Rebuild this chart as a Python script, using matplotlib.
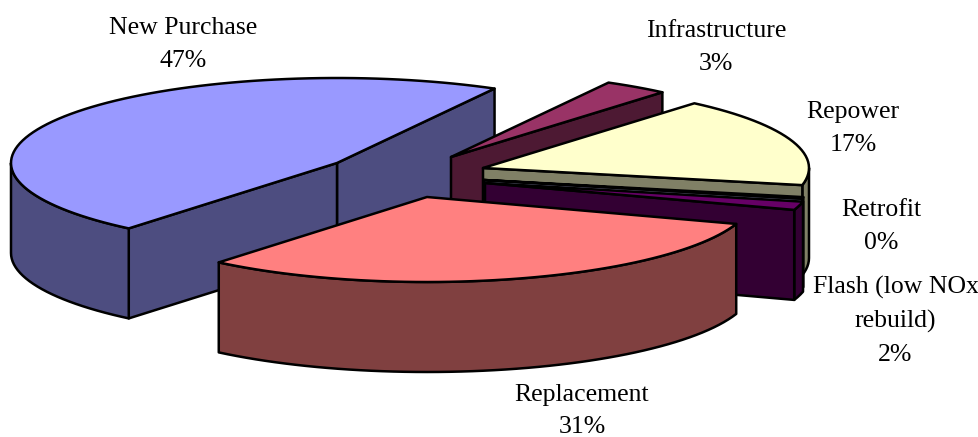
import numpy as np
import matplotlib
matplotlib.use("Agg")
import matplotlib.pyplot as plt
from matplotlib.patches import Polygon

# --- data ---
categories = ["New Purchase", "Infrastructure", "Repower", "Retrofit",
              "Flash (low NOx\nrebuild)", "Replacement"]
values = [47.0, 3.2, 17, 0.3, 1.6, 30.9]
percent_labels = ["47%", "3%", "17%", "0%", "2%", "31%"]

# --- style ---
top_colors = ["#9999FF", "#993366", "#FFFFCC", "#CCFFFF", "#660066", "#FF8080"]
side_colors = ["#4D4D80", "#4D1933", "#808066", "#666680", "#330033", "#804040"]

# --- layout (pixels) ---
W, H = 979, 437
RX, RY, DEPTH = 326, 85, 90
START_DEG = 230.3   # the pie starts here and runs clockwise
apex_x = [337, 451, 483, 484, 485, 427]
apex_y = [163, 157, 168, 180, 183, 197]
label_x = [183, 716, 853, 881, 895.5, 582]
label_y = [44.5, 47.5, 128.5, 226.5, 320.5, 411]
LW = 1.8

plt.rcParams["font.family"] = ["Liberation Serif", "DejaVu Serif"]
fig = plt.figure(figsize=(W / 100, H / 100), dpi=100)
ax = fig.add_axes([0, 0, 1, 1])
ax.set_xlim(0, W)
ax.set_ylim(H, 0)
ax.axis("off")

fractions = np.array(values, dtype=float) / sum(values)
ends = START_DEG - 360 * np.cumsum(fractions)
starts = np.concatenate([[START_DEG], ends[:-1]])


def arc(cx, cy, t0, t1):
    n = max(2, int(abs(t1 - t0) / 2) + 2)
    t = np.radians(np.linspace(t0, t1, n))
    return np.column_stack([cx + RX * np.cos(t), cy - RY * np.sin(t)])


def poly(pts, color, z):
    ax.add_patch(Polygon(pts, closed=True, facecolor=color, edgecolor="black",
                         linewidth=LW, joinstyle="round", zorder=z))


def cut_face(cx, cy, angle, color, z):
    p = arc(cx, cy, angle, angle)[0]
    poly([(cx, cy), p, p + (0, DEPTH), (cx, cy + DEPTH)], color, z)


def rim(cx, cy, t0, t1, color, z):
    r = arc(cx, cy, t0, t1)
    poly(np.vstack([r, (r + (0, DEPTH))[::-1]]), color, z)


for i, (s, e) in enumerate(zip(starts, ends)):
    cx, cy = apex_x[i], apex_y[i]
    z = i * 5 + 1
    if i == 0:
        # this slice passes over the far side: both cut faces show
        cut_face(cx, cy, e, side_colors[i], z)
        cut_face(cx, cy, s, side_colors[i], z + 1)
        rim(cx, cy, 180, s, side_colors[i], z + 1)
    elif i == len(values) - 1:
        # the front slice shows only its rim
        rim(cx, cy, s, e, side_colors[i], z)
    else:
        if min(s, 0) > e:
            rim(cx, cy, min(s, 0), e, side_colors[i], z)
        cut_face(cx, cy, e, side_colors[i], z + 1)
    poly(np.vstack([[(cx, cy)], arc(cx, cy, e, s)]), top_colors[i], z + 2)

for name, pct, x, y in zip(categories, percent_labels, label_x, label_y):
    ax.text(x, y, f"{name}\n{pct}", ha="center", va="center", fontsize=18.5,
            linespacing=1.63, color="black", zorder=100)

fig.savefig("out.png", dpi=100)
